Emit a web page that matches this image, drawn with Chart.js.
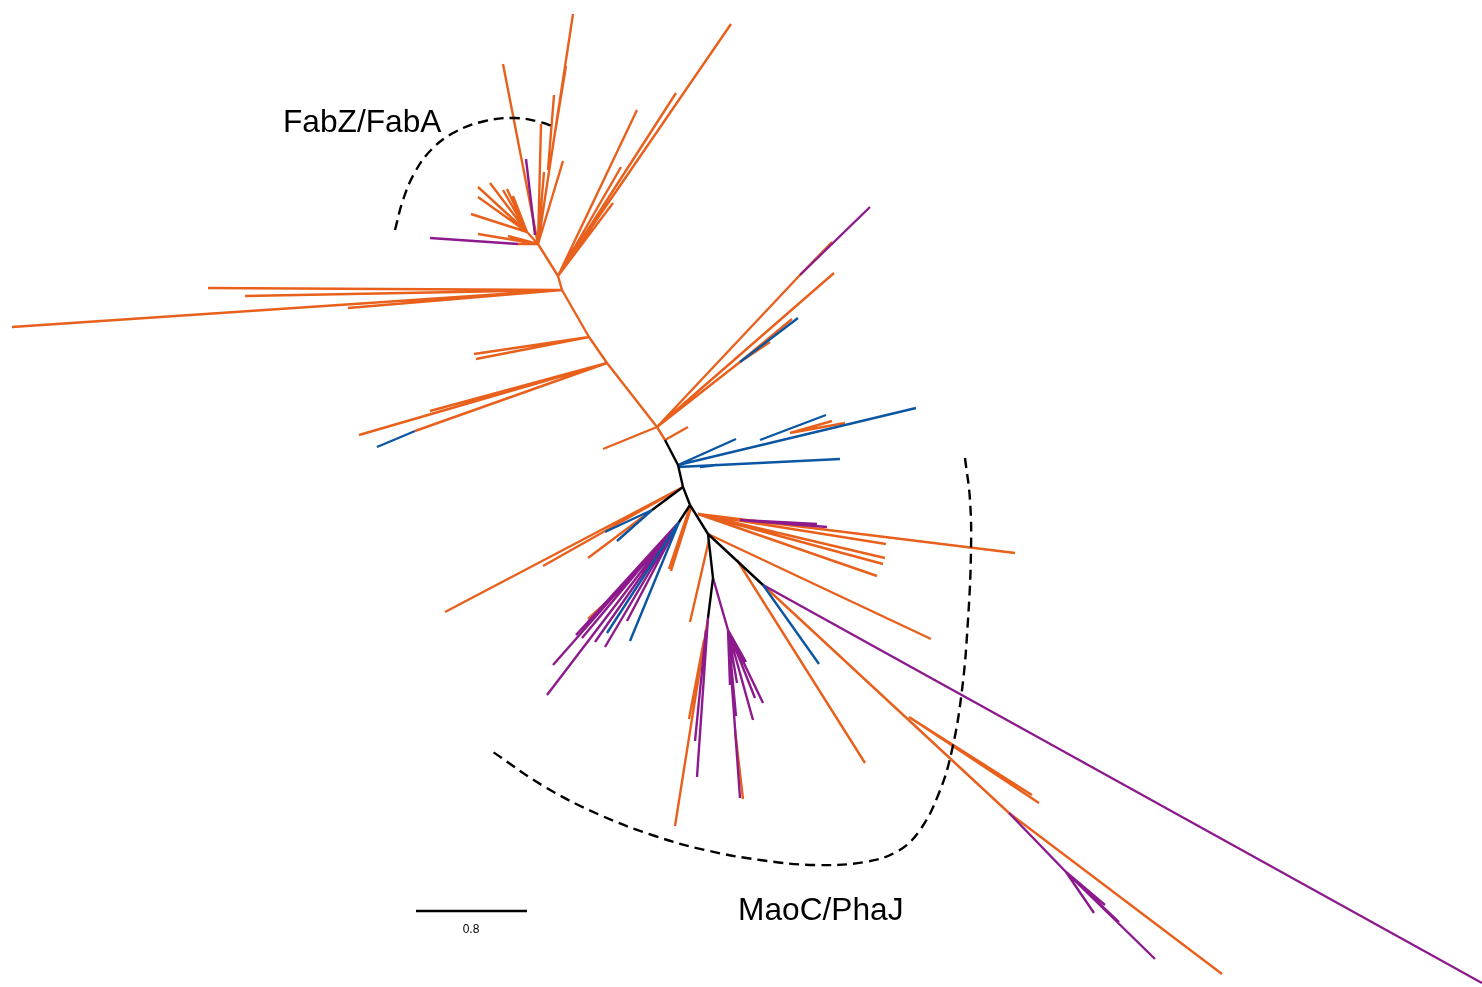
<!DOCTYPE html>
<html>
<head>
<meta charset="utf-8">
<title>FabZ/FabA and MaoC/PhaJ tree</title>
<script src="https://cdn.jsdelivr.net/npm/chart.js@4.4.1/dist/chart.umd.min.js"></script>
<style>
  html, body { margin: 0; padding: 0; background: #fff; }
  #wrap { width: 1482px; height: 987px; }
</style>
</head>
<body>
<div id="wrap"><canvas id="tree" width="1482" height="987"></canvas></div>
<script>
// tree branches, each [x1, y1, x2, y2] in layout units of the unrooted tree
const orangeBranches = [
  // backbone
  [538, 244, 558, 276], [558, 276, 562, 290], [562, 290, 589, 337],
  [589, 337, 607, 363], [607, 363, 657, 427], [657, 427, 665, 440],
  // FabZ/FabA crown
  [538, 244, 573, 14], [553, 145, 566, 66], [548, 170, 554, 95],
  [538, 244, 503, 64], [538, 244, 541, 124], [538, 244, 544, 172],
  [538, 244, 563, 161], [538, 244, 527, 232],
  [527, 232, 478, 187], [527, 232, 490, 183], [527, 232, 503, 190],
  [527, 232, 507, 189], [527, 232, 513, 196], [527, 232, 478, 197],
  [527, 232, 471, 214], [538, 244, 478, 234], [538, 244, 508, 236],
  [538, 244, 518, 244],
  // upper right clade
  [558, 276, 731, 24], [558, 276, 676, 93], [558, 276, 637, 110],
  [558, 276, 621, 167], [558, 276, 613, 203],
  // long left branches
  [562, 290, 12, 327], [562, 290, 208, 288], [562, 290, 245, 296],
  [562, 290, 348, 308],
  [589, 337, 474, 354], [589, 337, 476, 359],
  [607, 363, 359, 435], [607, 363, 430, 411], [607, 363, 415, 431],
  // clade to the upper right of the centre
  [657, 427, 603, 449], [657, 427, 800, 275], [800, 275, 832, 242],
  [657, 427, 834, 273], [657, 427, 740, 362], [740, 362, 792, 319],
  [740, 362, 770, 342], [665, 440, 688, 427],
  [790, 433, 832, 421], [790, 433, 845, 423],
  // lower half
  [683, 487, 445, 612], [683, 487, 543, 566], [652, 510, 588, 558],
  [623, 587, 588, 619],
  [690, 507, 669, 569], [691, 508, 671, 571],
  [698, 514, 1015, 553], [698, 514, 886, 544], [698, 514, 885, 558],
  [698, 514, 883, 564], [698, 514, 877, 576],
  [709, 540, 690, 622],
  [708, 618, 675, 826], [704, 640, 689, 719], [735, 730, 743, 799],
  [737, 560, 865, 763], [708, 534, 931, 639],
  [763, 585, 1009, 813], [1009, 813, 1222, 974],
  [909, 717, 1032, 795], [909, 717, 1039, 803]
];

const purpleBranches = [
  [535, 235, 526, 159], [518, 244, 430, 238],
  [800, 275, 870, 207],
  [740, 520, 827, 527], [740, 520, 817, 524],
  [679, 522, 547, 695], [679, 522, 553, 665], [679, 522, 576, 635],
  [679, 522, 582, 638], [679, 522, 623, 587], [679, 522, 595, 642],
  [679, 522, 605, 647], [679, 522, 627, 621],
  [708, 618, 697, 777], [706, 630, 695, 741],
  [713, 578, 728, 630], [728, 630, 746, 662], [728, 630, 763, 703],
  [728, 630, 755, 698], [728, 630, 753, 720], [728, 630, 737, 683],
  [728, 630, 730, 685], [728, 630, 736, 716], [728, 630, 740, 798],
  [763, 585, 1482, 983],
  [1009, 813, 1066, 872], [1066, 872, 1155, 959], [1066, 872, 1094, 913],
  [1066, 872, 1119, 922], [1066, 872, 1105, 905]
];

const blueBranches = [
  [415, 431, 377, 447],
  [740, 362, 798, 318],
  [678, 465, 736, 439], [678, 465, 916, 408], [760, 440, 826, 415],
  [678, 467, 840, 459], [700, 467, 717, 465],
  [652, 510, 605, 532], [652, 510, 617, 541],
  [679, 522, 607, 633], [679, 522, 630, 641],
  [763, 585, 819, 664]
];

const blackBranches = [
  [665, 440, 678, 465], [678, 465, 683, 487], [683, 487, 690, 505],
  [690, 505, 708, 534], [708, 534, 713, 578], [713, 578, 708, 618],
  [708, 534, 763, 585], [683, 487, 652, 510], [690, 505, 679, 522]
];

// dashed brackets round the two groups
const fabzArc = [
  [395, 230], [403, 200], [415, 172], [432, 149], [455, 132],
  [485, 121], [515, 118], [540, 122], [555, 127]
];
const maocArc = [
  [965, 458], [970, 500], [971, 550], [968, 620], [962, 690],
  [952, 750], [939, 793], [920, 830], [898, 851], [865, 862],
  [815, 865], [760, 860], [705, 850], [655, 836], [600, 815],
  [545, 787], [493, 752]
];

const scaleBar = [[416, 911], [527, 911]];
const scaleBarLabel = "0.8";
const groupNames = ["FabZ/FabA", "MaoC/PhaJ"];

const ORANGE = "#e8601c";
const PURPLE = "#8c1a8c";
const BLUE = "#0b56a2";

function branchPoints(list) {
  const pts = [];
  list.forEach(b => {
    pts.push({ x: b[0], y: b[1] });
    pts.push({ x: b[2], y: b[3] });
    pts.push({ x: null, y: null });
  });
  return pts;
}

function pathPoints(list) {
  return list.map(p => ({ x: p[0], y: p[1] }));
}

function branchSet(label, list, color, order) {
  return {
    label: label,
    data: branchPoints(list),
    showLine: true,
    spanGaps: false,
    borderColor: color,
    borderWidth: 2.4,
    borderCapStyle: "butt",
    pointRadius: 0,
    pointHoverRadius: 0,
    order: order
  };
}

// group names and the scale label, placed through the scales
const textMarks = {
  id: "textMarks",
  afterDatasetsDraw(chart) {
    const ctx = chart.ctx;
    const xs = chart.scales.x;
    const ys = chart.scales.y;
    ctx.save();
    ctx.fillStyle = "#000";
    ctx.textBaseline = "alphabetic";
    ctx.font = "31.7px 'Liberation Sans', Arial, sans-serif";
    ctx.textAlign = "left";
    ctx.fillText(groupNames[0], xs.getPixelForValue(283), ys.getPixelForValue(132));
    ctx.fillText(groupNames[1], xs.getPixelForValue(738), ys.getPixelForValue(920));
    ctx.font = "12px 'Liberation Sans', Arial, sans-serif";
    ctx.textAlign = "center";
    ctx.fillText(scaleBarLabel, xs.getPixelForValue(471), ys.getPixelForValue(933));
    ctx.restore();
  }
};

const dashed = {
  showLine: true,
  borderColor: "#000",
  borderWidth: 2.4,
  borderDash: [10, 6],
  tension: 0.4,
  pointRadius: 0,
  pointHoverRadius: 0,
  order: 0
};

new Chart(document.getElementById("tree"), {
  type: "scatter",
  data: {
    datasets: [
      branchSet("orange", orangeBranches, ORANGE, 5),
      branchSet("purple", purpleBranches, PURPLE, 4),
      branchSet("blue", blueBranches, BLUE, 3),
      branchSet("black", blackBranches, "#000", 2),
      Object.assign({ label: "FabZ/FabA", data: pathPoints(fabzArc) }, dashed),
      Object.assign({ label: "MaoC/PhaJ", data: pathPoints(maocArc) }, dashed),
      {
        label: "scale",
        data: pathPoints(scaleBar),
        showLine: true,
        borderColor: "#000",
        borderWidth: 2.4,
        pointRadius: 0,
        order: 0
      }
    ]
  },
  options: {
    responsive: false,
    animation: false,
    devicePixelRatio: 1,
    layout: { padding: 0 },
    scales: {
      x: { type: "linear", min: 0, max: 1482, display: false },
      y: { type: "linear", min: 0, max: 987, reverse: true, display: false }
    },
    plugins: {
      legend: { display: false },
      tooltip: { enabled: false }
    }
  },
  plugins: [textMarks]
});
</script>
</body>
</html>
